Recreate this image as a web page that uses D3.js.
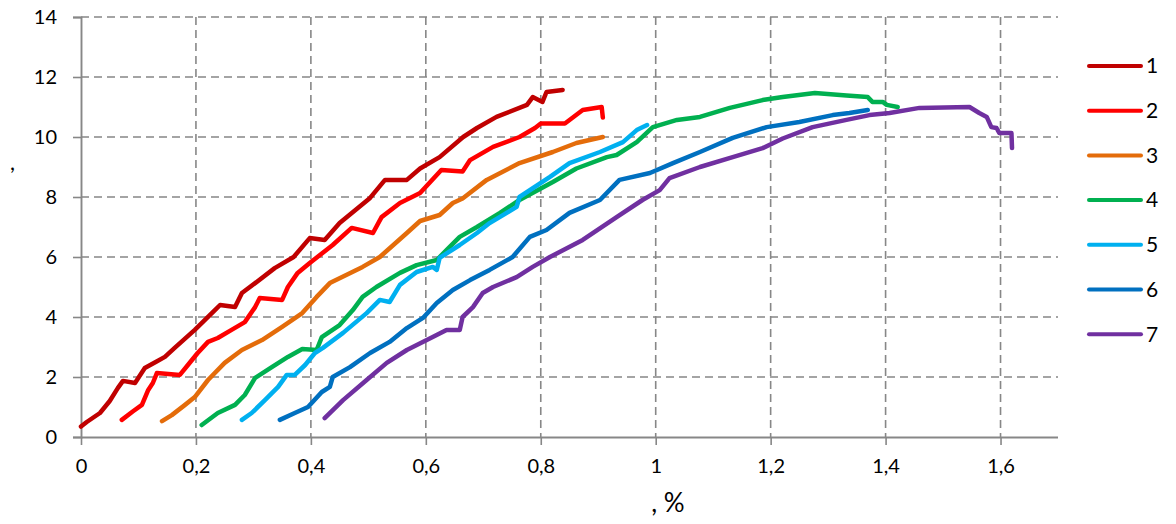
<!DOCTYPE html>
<html><head><meta charset="utf-8">
<script src="https://cdn.jsdelivr.net/npm/d3@7"></script>
<style>body{margin:0;background:#fff}svg{display:block}text{font-family:Lato,"Open Sans",sans-serif;fill:#000}</style>
</head><body><svg id="c" width="1176" height="524"></svg>
<script>
const xTicks = [0,0.2,0.4,0.6,0.8,1,1.2,1.4,1.6];
const yTicks = [0,2,4,6,8,10,12,14];
const seriesNames = ["1","2","3","4","5","6","7"];
const seriesColors = ["#C00000","#FF0000","#E46C0A","#00B050","#00B0F0","#0070C0","#7030A0"];
const s1 = [[0,0.35],[0.01,0.5],[0.033,0.8],[0.05,1.2],[0.064,1.63],[0.073,1.87],[0.094,1.8],[0.111,2.3],[0.13,2.5],[0.146,2.67],[0.163,2.97],[0.198,3.57],[0.233,4.23],[0.242,4.4],[0.268,4.33],[0.28,4.8],[0.303,5.13],[0.337,5.63],[0.37,6.0],[0.398,6.63],[0.424,6.57],[0.45,7.13],[0.503,7.97],[0.529,8.57],[0.567,8.57],[0.59,8.95],[0.624,9.33],[0.665,10.0],[0.689,10.3],[0.723,10.67],[0.776,11.07],[0.786,11.33],[0.803,11.17],[0.81,11.5],[0.838,11.57]];
const s2 = [[0.071,0.57],[0.09,0.85],[0.106,1.07],[0.117,1.57],[0.125,1.8],[0.132,2.13],[0.172,2.07],[0.186,2.4],[0.203,2.8],[0.221,3.17],[0.238,3.3],[0.262,3.57],[0.285,3.83],[0.303,4.33],[0.311,4.63],[0.35,4.57],[0.36,5.0],[0.377,5.47],[0.398,5.8],[0.438,6.4],[0.471,6.97],[0.508,6.8],[0.523,7.33],[0.555,7.8],[0.59,8.13],[0.627,8.9],[0.664,8.85],[0.677,9.23],[0.717,9.67],[0.763,10.0],[0.79,10.3],[0.8,10.45],[0.842,10.45],[0.873,10.9],[0.906,11.0],[0.908,10.65]];
const s3 = [[0.141,0.53],[0.158,0.73],[0.181,1.07],[0.198,1.33],[0.221,1.9],[0.25,2.47],[0.28,2.9],[0.315,3.23],[0.35,3.67],[0.385,4.13],[0.41,4.67],[0.433,5.13],[0.49,5.67],[0.52,6.0],[0.567,6.8],[0.59,7.2],[0.624,7.4],[0.647,7.8],[0.664,7.95],[0.706,8.57],[0.763,9.13],[0.821,9.5],[0.862,9.8],[0.908,10.0]];
const s4 = [[0.21,0.4],[0.238,0.8],[0.268,1.07],[0.285,1.4],[0.303,1.97],[0.332,2.33],[0.36,2.67],[0.385,2.93],[0.41,2.9],[0.419,3.33],[0.45,3.73],[0.473,4.23],[0.49,4.67],[0.514,5.0],[0.555,5.47],[0.584,5.73],[0.619,5.9],[0.636,6.23],[0.659,6.67],[0.689,7.0],[0.729,7.47],[0.763,7.9],[0.821,8.5],[0.862,8.95],[0.915,9.33],[0.932,9.4],[0.967,9.83],[0.995,10.33],[1.037,10.57],[1.077,10.67],[1.129,10.97],[1.186,11.23],[1.221,11.33],[1.277,11.47],[1.332,11.38],[1.369,11.33],[1.377,11.17],[1.395,11.17],[1.402,11.07],[1.421,11.0]];
const s5 = [[0.28,0.57],[0.297,0.8],[0.32,1.23],[0.343,1.67],[0.358,2.07],[0.372,2.07],[0.39,2.4],[0.407,2.8],[0.421,2.97],[0.456,3.47],[0.497,4.13],[0.52,4.57],[0.537,4.5],[0.555,5.07],[0.584,5.5],[0.612,5.67],[0.619,5.57],[0.624,5.97],[0.659,6.4],[0.689,6.8],[0.711,7.13],[0.758,7.67],[0.763,8.0],[0.816,8.67],[0.85,9.13],[0.903,9.5],[0.943,9.83],[0.967,10.23],[0.985,10.4]];
const s6 = [[0.346,0.57],[0.372,0.8],[0.395,1.0],[0.419,1.5],[0.433,1.67],[0.438,2.0],[0.468,2.33],[0.503,2.8],[0.537,3.17],[0.567,3.63],[0.595,3.97],[0.619,4.47],[0.647,4.9],[0.677,5.23],[0.711,5.57],[0.751,6.0],[0.781,6.67],[0.81,6.9],[0.85,7.47],[0.903,7.9],[0.937,8.57],[0.99,8.8],[1.03,9.13],[1.077,9.5],[1.134,9.97],[1.193,10.33],[1.25,10.5],[1.308,10.73],[1.337,10.8],[1.369,10.9]];
const s7 = [[0.424,0.63],[0.456,1.23],[0.497,1.9],[0.532,2.47],[0.567,2.9],[0.612,3.33],[0.636,3.57],[0.659,3.57],[0.664,4.0],[0.682,4.33],[0.699,4.8],[0.717,5.0],[0.758,5.33],[0.786,5.67],[0.816,6.0],[0.873,6.57],[0.932,7.33],[0.977,7.9],[1.007,8.23],[1.024,8.63],[1.077,9.0],[1.134,9.33],[1.186,9.63],[1.221,9.95],[1.273,10.33],[1.332,10.57],[1.372,10.73],[1.407,10.8],[1.459,10.97],[1.546,11.0],[1.563,10.8],[1.576,10.67],[1.584,10.33],[1.593,10.3],[1.598,10.13],[1.619,10.13],[1.62,9.63]];
const seriesData = [s1,s2,s3,s4,s5,s6,s7];

const svg = d3.select("#c");
const x = d3.scaleLinear().domain([0,1.7]).range([81,1058]);
const y = d3.scaleLinear().domain([0,14]).range([437,17]);
const grid = "#878787";
const fmt = d => String(d).replace(".", ",");

// horizontal gridlines
svg.append("g").selectAll("line").data(yTicks.filter(d=>d>0)).join("line")
  .attr("x1",x(0)).attr("x2",x(1.7)).attr("y1",d=>y(d)).attr("y2",d=>y(d))
  .attr("stroke",grid).attr("stroke-width",1.6).attr("stroke-dasharray","8,5");
// vertical gridlines
svg.append("g").selectAll("line").data(xTicks.filter(d=>d>0)).join("line")
  .attr("x1",d=>x(d)).attr("x2",d=>x(d)).attr("y1",y(14)).attr("y2",y(0))
  .attr("stroke",grid).attr("stroke-width",1.6).attr("stroke-dasharray","8,5");

// axes
const xAxis = d3.axisBottom(x).tickValues(xTicks).tickFormat(fmt).tickSize(8).tickPadding(14);
const gx = svg.append("g").attr("transform",`translate(0,${y(0)})`).call(xAxis);
const yAxis = d3.axisLeft(y).tickValues(yTicks).tickFormat(d=>d).tickSize(8).tickPadding(16);
const gy = svg.append("g").attr("transform",`translate(${x(0)},0)`).call(yAxis);
[gx,gy].forEach(g=>{
  g.select(".domain").attr("stroke",grid).attr("stroke-width",1.9);
  g.selectAll(".tick line").attr("stroke",grid).attr("stroke-width",1.6);
  g.selectAll(".tick text").attr("font-size",20).attr("font-family","Lato, 'Open Sans', sans-serif").attr("fill","#000");
});
gx.select(".domain").attr("d",`M${x(0)},0.5H${x(1.7)}`);

// series
const line = d3.line().x(d=>x(d[0])).y(d=>y(d[1]));
svg.append("g").selectAll("path").data(seriesData).join("path")
  .attr("d",line).attr("fill","none")
  .attr("stroke",(d,i)=>seriesColors[i]).attr("stroke-width",4.5)
  .attr("stroke-linejoin","round").attr("stroke-linecap","round");

// legend
const lg = svg.append("g").selectAll("g").data(seriesNames).join("g")
  .attr("transform",(d,i)=>`translate(0,${66+i*44.7})`);
lg.append("line").attr("x1",1089).attr("x2",1141).attr("y1",0).attr("y2",0)
  .attr("stroke",(d,i)=>seriesColors[i]).attr("stroke-width",4).attr("stroke-linecap","round");
lg.append("text").attr("x",1146).attr("y",0).attr("dy","0.35em").attr("font-size",21).text(d=>d);

// axis titles
svg.append("text").attr("x",10).attr("y",170).attr("font-size",22).text(",");
svg.append("text").attr("x",668).attr("y",512).attr("text-anchor","middle")
  .attr("font-size",26).attr("font-family","'Liberation Serif', serif").text(", %");
</script></body></html>
